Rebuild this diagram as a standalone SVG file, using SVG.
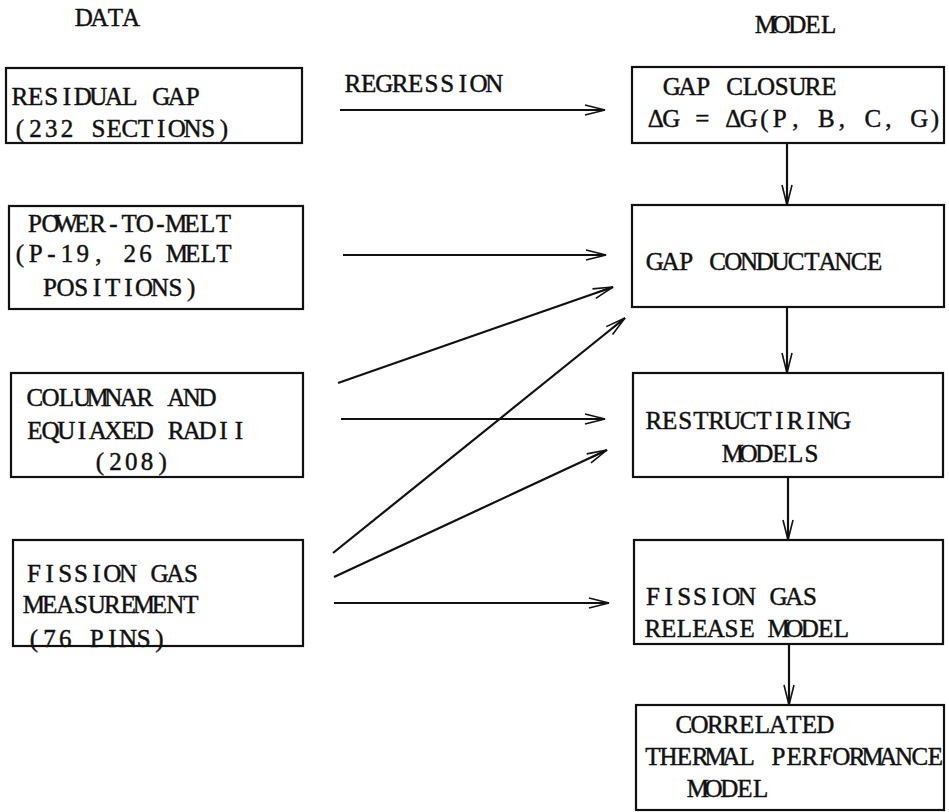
<svg xmlns="http://www.w3.org/2000/svg" width="949" height="812" viewBox="0 0 949 812">
  <style>
    /* typewriter look: serif glyphs placed on a fixed character pitch */
    text { font-family: "Liberation Serif", "Times New Roman", serif; font-size: 25px; fill: #111; stroke: #111; stroke-width: 0.45; text-anchor: middle; }
    .box { fill: none; stroke: #111; stroke-width: 2.2; }
    .conn { fill: none; stroke: #111; stroke-width: 2.2; }
  </style>
  <defs>
    <marker id="arrow" markerUnits="userSpaceOnUse" markerWidth="26" markerHeight="14" refX="22" refY="7" orient="auto">
      <path d="M2,2 L22,7 L2,12 M5,7 L22,7" fill="none" stroke="#111" stroke-width="1.6"/>
    </marker>
  </defs>
  <rect width="949" height="812" fill="#fff"/>

  <!-- column headings -->
  <text x="83.9 99.6 115.3 131.0" y="26">DATA</text>
  <text x="765.9 781.6 797.3 813.0 828.7" y="33">MODEL</text>
  <text x="352.9 368.6 384.3 400.0 415.7 431.4 447.1 462.8 478.5 494.2" y="92">REGRESSION</text>

  <!-- data boxes -->
  <g id="residual-gap">
    <rect class="box" x="6" y="68" width="296" height="75"/>
    <text x="19.9 35.6 51.3 67.0 82.7 98.4 114.1 129.8 145.5 161.2 176.9 192.6" y="105">RESIDUAL GAP</text>
    <text x="19.9 35.6 51.3 67.0 82.7 98.4 114.1 129.8 145.5 161.2 176.9 192.6 208.3 224.0" y="137">(232 SECTIONS)</text>
  </g>
  <g id="power-to-melt">
    <rect class="box" x="9" y="206" width="294" height="103"/>
    <text x="34.9 50.6 66.3 82.0 97.7 113.4 129.1 144.8 160.5 176.2 191.9 207.6 223.3" y="232">POWER-TO-MELT</text>
    <text x="19.9 35.6 51.3 67.0 82.7 98.4 114.1 129.8 145.5 161.2 176.9 192.6 208.3 224.0" y="262">(P-19, 26 MELT</text>
    <text x="49.9 65.6 81.3 97.0 112.7 128.4 144.1 159.8 175.5 191.2" y="296">POSITIONS)</text>
  </g>
  <g id="columnar-radii">
    <rect class="box" x="11" y="373" width="292" height="104"/>
    <text x="34.9 50.6 66.3 82.0 97.7 113.4 129.1 144.8 160.5 176.2 191.9 207.6" y="406">COLUMNAR AND</text>
    <text x="34.9 50.6 66.3 82.0 97.7 113.4 129.1 144.8 160.5 176.2 191.9 207.6 223.3 239.0" y="439">EQUIAXED RADII</text>
    <text x="99.9 115.6 131.3 147.0 162.7" y="470">(208)</text>
  </g>
  <g id="fission-gas-data">
    <rect class="box" x="13" y="540" width="290" height="106"/>
    <text x="33.9 49.6 65.3 81.0 96.7 112.4 128.1 143.8 159.5 175.2 190.9" y="582">FISSION GAS</text>
    <text x="33.9 49.6 65.3 81.0 96.7 112.4 128.1 143.8 159.5 175.2 190.9" y="613">MEASUREMENT</text>
    <text x="33.9 49.6 65.3 81.0 96.7 112.4 128.1 143.8 159.5" y="647">(76 PINS)</text>
  </g>

  <!-- model boxes -->
  <g id="gap-closure">
    <rect class="box" x="632" y="67" width="312" height="76"/>
    <text x="671.9 687.6 703.3 719.0 734.7 750.4 766.1 781.8 797.5 813.2 828.9" y="95">GAP CLOSURE</text>
    <text x="655.8 671.3 686.8 702.3 717.8 733.3 748.8 764.3 779.8 795.3 810.8 826.3 841.8 857.3 872.8 888.3 903.8 919.3 934.8" y="127">ΔG = ΔG(P, B, C, G)</text>
  </g>
  <g id="gap-conductance">
    <rect class="box" x="632" y="205" width="312" height="102"/>
    <text x="654.9 670.6 686.3 702.0 717.7 733.4 749.1 764.8 780.5 796.2 811.9 827.6 843.3 859.0 874.7" y="270">GAP CONDUCTANCE</text>
  </g>
  <g id="restructuring">
    <rect class="box" x="633" y="373" width="310" height="104"/>
    <text x="653.9 669.6 685.3 701.0 716.7 732.4 748.1 763.8 779.5 795.2 810.9 826.6 842.3" y="429">RESTRUCTIRING</text>
    <text x="732.9 748.6 764.3 780.0 795.7 811.4" y="462">MODELS</text>
  </g>
  <g id="fission-gas-release">
    <rect class="box" x="634" y="540" width="309" height="104"/>
    <text x="652.9 668.6 684.3 700.0 715.7 731.4 747.1 762.8 778.5 794.2 809.9" y="605">FISSION GAS</text>
    <text x="652.9 668.6 684.3 700.0 715.7 731.4 747.1 762.8 778.5 794.2 809.9 825.6 841.3" y="637">RELEASE MODEL</text>
  </g>
  <g id="thermal-performance">
    <rect class="box" x="636" y="705" width="308" height="105"/>
    <text x="683.9 699.6 715.3 731.0 746.7 762.4 778.1 793.8 809.5 825.2" y="733">CORRELATED</text>
    <text x="652.9 668.6 684.3 700.0 715.7 731.4 747.1 762.8 778.5 794.2 809.9 825.6 841.3 857.0 872.7 888.4 904.1 919.8 935.5" y="765">THERMAL PERFORMANCE</text>
    <text x="697.9 713.6 729.3 745.0 760.7" y="797">MODEL</text>
  </g>

  <!-- connectors -->
  <g id="connectors">
    <line class="conn" x1="340" y1="110" x2="605" y2="110" marker-end="url(#arrow)"/>
    <line class="conn" x1="343" y1="255" x2="606" y2="255" marker-end="url(#arrow)"/>
    <line class="conn" x1="338" y1="383" x2="613" y2="287" marker-end="url(#arrow)"/>
    <line class="conn" x1="341" y1="419" x2="605" y2="419" marker-end="url(#arrow)"/>
    <line class="conn" x1="333" y1="553" x2="625" y2="318" marker-end="url(#arrow)"/>
    <line class="conn" x1="334" y1="577" x2="607" y2="450" marker-end="url(#arrow)"/>
    <line class="conn" x1="334" y1="603" x2="609" y2="603" marker-end="url(#arrow)"/>
    <line class="conn" x1="787" y1="143" x2="787" y2="205" marker-end="url(#arrow)"/>
    <line class="conn" x1="787" y1="307" x2="787" y2="373" marker-end="url(#arrow)"/>
    <line class="conn" x1="788" y1="477" x2="788" y2="540" marker-end="url(#arrow)"/>
    <line class="conn" x1="789" y1="644" x2="789" y2="705" marker-end="url(#arrow)"/>
  </g>
</svg>
